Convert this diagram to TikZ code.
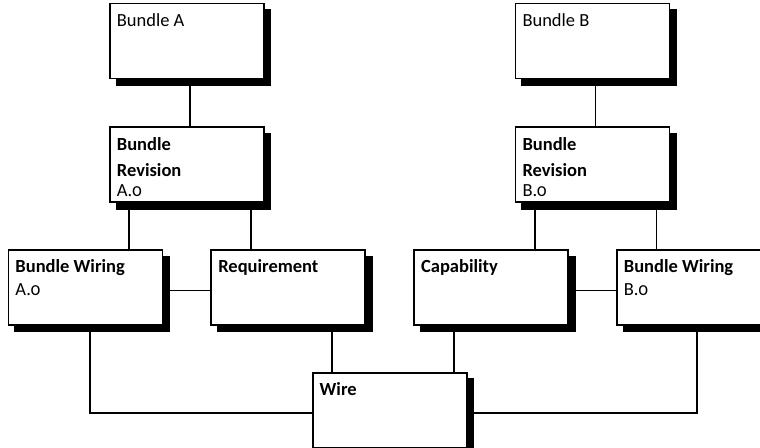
\documentclass[tikz,border=0pt]{standalone}
\usepackage{fontspec}
\setmainfont[Numbers=OldStyle]{Carlito}
\usetikzlibrary{positioning,calc,shadows}
\tikzset{
  ent/.style={draw=black, line width=1.8pt, fill=white, minimum width=154pt, minimum height=75pt, inner sep=5pt, font=\fontsize{18.5}{24}\selectfont,
    drop shadow={shadow xshift=6.5pt, shadow yshift=-6.5pt, fill=black, draw=black, line width=1.8pt, opacity=1}},
  lnk/.style={line width=1.8pt, color=black},
}
\newcommand{\enttext}[1]{\parbox[t][55pt][t]{140pt}{\raggedright #1}}

\begin{document}
\begin{tikzpicture}[node distance=46pt and 47pt]
    \useasboundingbox (0,0) rectangle (760pt,-447pt);
    \clip (0,0) rectangle (760pt,-447pt);
    % bottom row
    \node[ent] (wa) at (85.5pt,-287.5pt) {\enttext{\textbf{Bundle Wiring}\\[-1pt]A.0}};
    \node[ent, right=of wa] (req) {\enttext{\textbf{Requirement}}};
    \node[ent, right=of req] (cap) {\enttext{\textbf{Capability}}};
    \node[ent, right=of cap] (wb) {\enttext{\textbf{Bundle Wiring}\\[-1pt]B.0}};
    % revisions and bundles
    \coordinate (ma) at ($(wa.north)!0.5!(req.north)$);
    \coordinate (mb) at ($(cap.north)!0.5!(wb.north)$);
    \node[ent, above=of ma] (reva) {\enttext{\textbf{Bundle}\\[2pt]\textbf{Revision}\\[-4pt]A.0}};
    \node[ent, above=of mb] (revb) {\enttext{\textbf{Bundle}\\[2pt]\textbf{Revision}\\[-4pt]B.0}};
    \node[ent, above=47pt of reva] (bunda) {\enttext{Bundle A}};
    \node[ent, above=47pt of revb] (bundb) {\enttext{Bundle B}};
    % wire
    \coordinate (mw) at ($(req.south)!0.5!(cap.south)$);
    \node[ent, below=of mw] (wire) {\enttext{\textbf{Wire}}};

    \draw[lnk] ([xshift=3pt]bunda.south) -- ([xshift=3pt]reva.north);
    \draw[lnk] ([xshift=3pt]bundb.south) -- ([xshift=3pt]revb.north);
    \draw[lnk] ([xshift=20pt]reva.south west) -- ([xshift=20pt]reva.south west |- wa.north);
    \draw[lnk] ([xshift=-14pt]reva.south east) -- ([xshift=-14pt]reva.south east |- req.north);
    \draw[lnk] ([xshift=20pt]revb.south west) -- ([xshift=20pt]revb.south west |- cap.north);
    \draw[lnk] ([xshift=-14pt]revb.south east) -- ([xshift=-14pt]revb.south east |- wb.north);
    \draw[lnk] ([yshift=-3pt]wa.east) -- ([yshift=-3pt]req.west);
    \draw[lnk] ([yshift=-3pt]cap.east) -- ([yshift=-3pt]wb.west);
    \draw[lnk] ([xshift=20pt]wire.north west) -- ([xshift=20pt]wire.north west |- req.south);
    \draw[lnk] ([xshift=-14pt]wire.north east) -- ([xshift=-14pt]wire.north east |- cap.south);
    \draw[lnk] ([xshift=4.5pt]wa.south) |- ([yshift=-2.5pt]wire.west);
    \draw[lnk] ([xshift=3pt]wb.south) |- ([yshift=-2.5pt]wire.east);
\end{tikzpicture}
\end{document}
